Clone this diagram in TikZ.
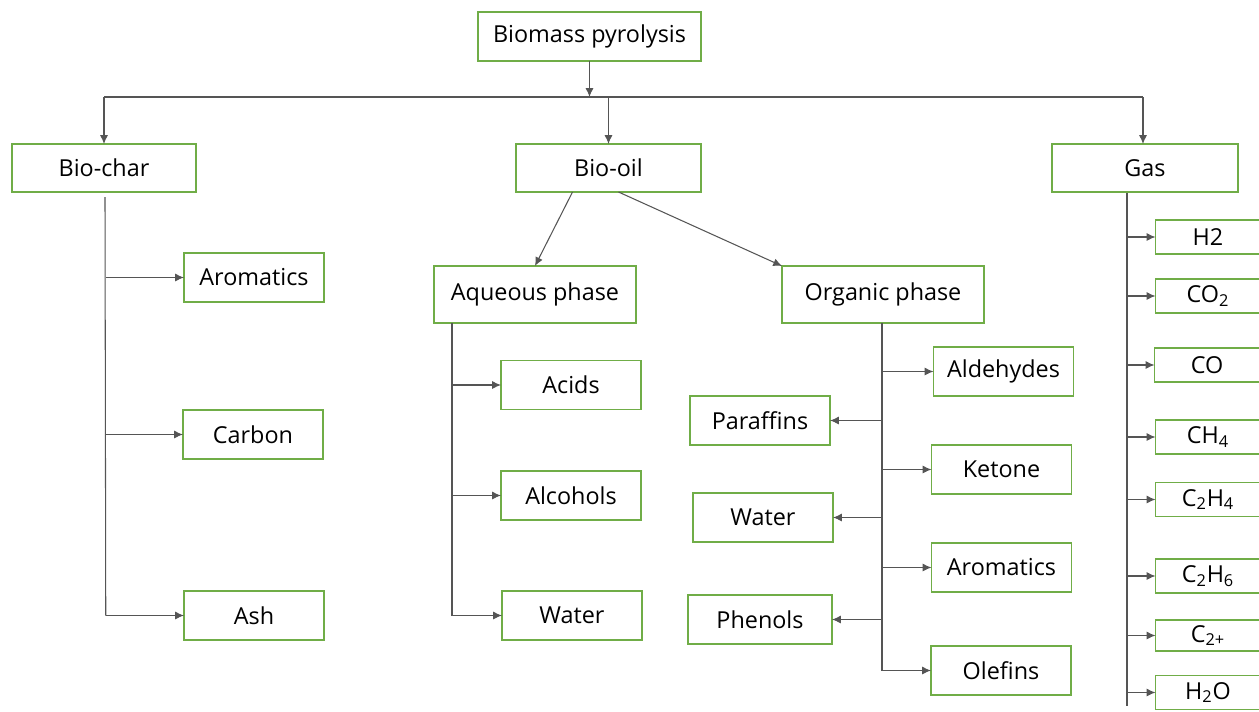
\documentclass[tikz,border=0pt]{standalone}
\usepackage{fontspec}
\setmainfont{Open Sans}
\usetikzlibrary{arrows.meta}
\definecolor{boxgreen}{RGB}{112,173,71}
\definecolor{linegray}{RGB}{85,85,85}
\begin{document}
\begin{tikzpicture}[x=0.02cm,y=-0.02cm,inner sep=0pt,outer sep=0pt,
sysbox/.style={draw=boxgreen,rectangle,line width=0.8pt,minimum width=2.8cm,minimum height=0.98cm,font=\fontsize{13.3}{15}\selectfont},
phasebox/.style={sysbox,minimum width=4.04cm,minimum height=1.14cm},
gasbox/.style={sysbox,minimum width=2.1cm,minimum height=0.68cm},
conn/.style={draw=linegray,line width=0.6pt},
arr/.style={conn,-{Latex[length=5pt,width=4.5pt]}}]
\useasboundingbox (0,0) rectangle (1259,711);
% top level
\draw (589.5,36.5) node[sysbox,minimum width=4.46cm] (bp) {Biomass pyrolysis};
\draw (104,168) node[sysbox,minimum width=3.68cm,minimum height=0.96cm] (bc) {Bio-char};
\draw (608.5,168) node[sysbox,minimum width=3.7cm,minimum height=0.96cm] (bo) {Bio-oil};
\draw (1145,168) node[sysbox,minimum width=3.72cm,minimum height=0.96cm] (gas) {Gas};
\coordinate (busl) at (104,97);
\coordinate (busr) at (1143,97);
\draw[conn] (busl) -- (busr);
\draw[arr] (bp.south) -- (bp.south |- busl);
\draw[arr] (busl) -- (bc.north);
\draw[arr] (bo.north |- busl) -- (bo.north);
\draw[arr] (busr) -- (busr |- gas.north);
% bio-char
\draw (254,277.5) node[sysbox] (ar1) {Aromatics};
\draw (253,434.5) node[sysbox] (carb) {Carbon};
\draw (254,615.5) node[sysbox] (ash) {Ash};
\draw[conn] ([shift={(1,5)}]bc.south) -- ([xshift=1]bc.south |- ash.west);
\foreach \n in {ar1,carb,ash}
  \draw[arr] ([xshift=1]bc.south |- \n.west) -- (\n.west);
% bio-oil
\draw (535,294.5) node[phasebox] (aq) {Aqueous phase};
\draw (883,294.5) node[phasebox] (og) {Organic phase};
\draw[arr] ([xshift=-0.72cm]bo.south) -- (aq.north);
\draw[arr] ([xshift=0.2cm]bo.south) -- (og.north west);
\draw (571,385) node[sysbox] (acid) {Acids};
\draw (571,495.5) node[sysbox] (alc) {Alcohols};
\draw (572,615.5) node[sysbox] (wat1) {Water};
\coordinate (aqt) at (452,323);
\draw[conn] (aqt) -- (aqt |- wat1.west);
\foreach \n in {acid,alc,wat1}
  \draw[arr] (aqt |- \n.west) -- (\n.west);
\draw (1003.5,371.5) node[sysbox] (ald) {Aldehydes};
\draw (1001.5,469.5) node[sysbox] (ket) {Ketone};
\draw (1001.5,567.5) node[sysbox] (ar2) {Aromatics};
\draw (1001,670.5) node[sysbox] (ole) {Olefins};
\draw (760,420.5) node[sysbox] (par) {Paraffins};
\draw (763,517.5) node[sysbox] (wat2) {Water};
\draw (760,619.5) node[sysbox,minimum width=2.88cm] (phe) {Phenols};
\coordinate (ogt) at (882,323);
\draw[conn] (ogt) -- (ogt |- ole.west);
\foreach \n in {ald,ket,ar2,ole}
  \draw[arr] (ogt |- \n.west) -- (\n.west);
\foreach \n in {par,wat2,phe}
  \draw[arr] (ogt |- \n.east) -- (\n.east);
% gas
\draw (1208,237) node[gasbox] (h2) {H2};
\draw (1208,296) node[gasbox] (co2) {CO\textsubscript{2}};
\draw (1207,365) node[gasbox] (co) {CO};
\draw (1208,437) node[gasbox] (ch4) {CH\textsubscript{4}};
\draw (1208,499.5) node[gasbox] (c2h4) {C\textsubscript{2}H\textsubscript{4}};
\draw (1208,576) node[gasbox] (c2h6) {C\textsubscript{2}H\textsubscript{6}};
\draw (1208,635.5) node[gasbox,minimum height=0.62cm] (c2p) {C\textsubscript{2+}};
\draw (1208,692.5) node[gasbox] (h2o) {H\textsubscript{2}O};
\coordinate (gst) at (1127,193);
\draw[conn] (gst) -- ++(0,513);
\foreach \n in {h2,co2,co,ch4,c2h4,c2h6,c2p,h2o}
  \draw[arr] (gst |- \n.west) -- (\n.west);
\end{tikzpicture}
\end{document}
